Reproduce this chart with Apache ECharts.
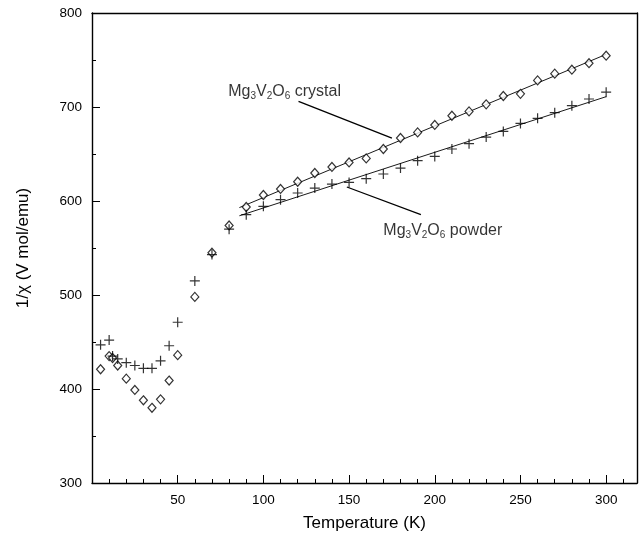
<!DOCTYPE html>
<html>
<head>
<meta charset="utf-8">
<script src="https://cdn.jsdelivr.net/npm/echarts@6/dist/echarts.min.js"></script>
<style>
html,body{margin:0;padding:0;background:#fff;}
#chart{width:642px;height:537px;}
</style>
</head>
<body>
<div id="chart"></div>
<script>
// ---- data ----
var temps = [5,10,12,15,20,25,30,35,40,45,50,60,70,80,90,100,110,120,130,140,150,160,170,180,190,200,210,220,230,240,250,260,270,280,290,300];
var crystal = [421,435,433,425,411,399,388,380,389,409,436,498,545,574,593.6,606.4,612.8,620.5,629.8,636.2,641,645.3,655.3,667,673,680.9,690.7,695.3,702.8,711.7,714,728.3,735.5,739.7,746.6,754.6];
var powder = [447,452,435,432,428,425,422,422,430,446,471,515,543,570,585.4,594.3,601.4,608.5,613.8,618,619.8,623.7,628.7,635,642.9,647.4,655.3,661,668,674,682.5,688,694,701.4,708.5,715.8];
var fitT = [86,300];
var crystalFit = [593,756];
var powderFit = [584.3,711];
var crystalPointer = [[120.5,706],[175,667]];
var powderPointer = [[148.7,614.9],[191.9,585.4]];
var crystalLabelPos = [79.5,716.6];
var powderLabelPos = [170,568.4];
var xTickLabels = [50,100,150,200,250,300];
var yTickLabels = [300,400,500,600,700,800];

function pairs(xs, ys){ return xs.map(function(x,i){return [x, ys[i]];}); }

var FONT = '"Liberation Sans", Arial, sans-serif';
var chart = echarts.init(document.getElementById('chart'), null, {renderer:'canvas'});
var gridRect = {left:92, right:5, top:13, bottom:54};
var rich = {
  m:{fontSize:16, fontFamily:FONT, color:'#000', lineHeight:20},
  s:{fontSize:10, fontFamily:FONT, color:'#000', lineHeight:11, verticalAlign:'bottom'}
};
var frameAxisX = {type:'value', gridIndex:0, position:'top', min:0, max:318,
  axisLine:{show:true, onZero:false, lineStyle:{color:'#000', width:1.4}},
  axisTick:{show:false}, axisLabel:{show:false}, splitLine:{show:false}};
var frameAxisY = {type:'value', gridIndex:0, position:'right', min:300, max:800,
  axisLine:{show:true, onZero:false, lineStyle:{color:'#000', width:1.4}},
  axisTick:{show:false}, axisLabel:{show:false}, splitLine:{show:false}};
var option = {
  animation:false,
  backgroundColor:'#fff',
  grid:[
    Object.assign({show:false}, gridRect),
    Object.assign({show:false}, gridRect)
  ],
  xAxis:[
    {type:'value', gridIndex:0, position:'bottom', min:0, max:318, interval:50,
     name:'Temperature (K)', nameLocation:'middle', nameGap:32,
     nameTextStyle:{fontSize:17, fontFamily:FONT, color:'#000'},
     axisLine:{show:true, onZero:false, lineStyle:{color:'#000', width:1.4}},
     axisTick:{show:true, inside:true, length:8, lineStyle:{color:'#000'}},
     axisLabel:{fontSize:13.5, fontFamily:FONT, color:'#000', margin:10,
       formatter:function(v){return xTickLabels.indexOf(v)>=0 ? String(v) : '';}},
     splitLine:{show:false}},
    {type:'value', gridIndex:1, min:0, max:318, interval:10,
     axisLine:{show:false},
     axisTick:{show:true, inside:true, length:4, lineStyle:{color:'#000'}},
     axisLabel:{show:false}, splitLine:{show:false}},
    frameAxisX
  ],
  yAxis:[
    {type:'value', gridIndex:0, position:'left', min:300, max:800, interval:100,
     name:'1/\u03c7 (V mol/emu)', nameLocation:'middle', nameGap:60, nameRotate:90,
     nameTextStyle:{fontSize:17, fontFamily:FONT, color:'#000'},
     axisLine:{show:true, onZero:false, lineStyle:{color:'#000', width:1.4}},
     axisTick:{show:true, inside:true, length:8, lineStyle:{color:'#000'}},
     minorTick:{show:true, splitNumber:2, length:4, lineStyle:{color:'#000'}},
     axisLabel:{fontSize:13.5, fontFamily:FONT, color:'#000', margin:10,
       formatter:function(v){return yTickLabels.indexOf(v)>=0 ? String(v) : '';}},
     splitLine:{show:false}},
    {type:'value', gridIndex:1, min:300, max:800, show:false},
    frameAxisY
  ],
  series:[
    {type:'line', data:pairs(fitT, crystalFit), symbol:'none', lineStyle:{color:'#000', width:0.9}, z:1},
    {type:'line', data:pairs(fitT, powderFit), symbol:'none', lineStyle:{color:'#000', width:0.9}, z:1},
    {type:'line', data:crystalPointer, symbol:'none', lineStyle:{color:'#000', width:1.3}, z:1},
    {type:'line', data:powderPointer, symbol:'none', lineStyle:{color:'#000', width:1.3}, z:1},
    {type:'scatter', data:pairs(temps, crystal), symbol:'diamond', symbolSize:[8,9],
     itemStyle:{color:'#fff', borderColor:'#000', borderWidth:1.2}, z:3},
    {type:'scatter', data:pairs(temps, powder), symbol:'path://M5,0L5,10M0,5L10,5', symbolSize:10,
     itemStyle:{color:'none', borderColor:'#000', borderWidth:1.2}, z:4},
    {type:'scatter', data:[crystalLabelPos], symbolSize:0, silent:true,
     label:{show:true, position:'right', distance:0, formatter:'{m|Mg}{s|3}{m|V}{s|2}{m|O}{s|6}{m| crystal}', rich:rich}},
    {type:'scatter', data:[powderLabelPos], symbolSize:0, silent:true,
     label:{show:true, position:'right', distance:0, formatter:'{m|Mg}{s|3}{m|V}{s|2}{m|O}{s|6}{m| powder}', rich:rich}}
  ]
};
chart.setOption(option);
</script>
</body>
</html>
